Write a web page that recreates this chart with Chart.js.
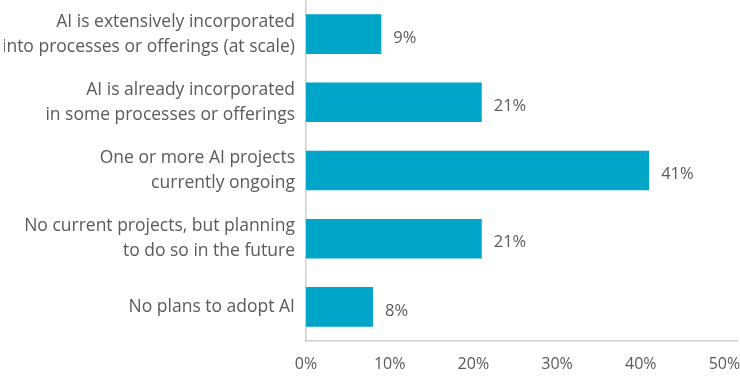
<!DOCTYPE html>
<html>
<head>
<meta charset="utf-8">
<script src="https://cdn.jsdelivr.net/npm/chart.js@4"></script>
<style>
  html, body { margin: 0; padding: 0; background: #fff; }
  #wrap { width: 740px; height: 387px; }
</style>
</head>
<body>
<div id="wrap"><canvas id="myChart"></canvas></div>
<script>
const categories = [
  ['AI is extensively incorporated', 'into processes or offerings (at scale)'],
  ['AI is already incorporated', 'in some processes or offerings'],
  ['One or more AI projects', 'currently ongoing'],
  ['No current projects, but planning', 'to do so in the future'],
  'No plans to adopt AI'
];
const shares = [9, 21, 41, 21, 8];
const xTicks = [0, 10, 20, 30, 40, 50];

const textColor = '#5a5a5a';

// value labels to the right of each bar
const barLabels = {
  id: 'barLabels',
  afterDatasetsDraw(chart) {
    const ctx = chart.ctx;
    const meta = chart.getDatasetMeta(0);
    ctx.save();
    ctx.fillStyle = textColor;
    ctx.font = '16.5px "Open Sans"';
    ctx.textBaseline = 'middle';
    ctx.textAlign = 'left';
    meta.data.forEach((bar, i) => {
      ctx.fillText(shares[i] + '%', bar.x + 12, bar.y + 4);
    });
    ctx.restore();
  }
};

const ctx = document.getElementById('myChart').getContext('2d');

const myChart = new Chart(ctx, {
  type: 'bar',
  data: {
    labels: categories,
    datasets: [{
      data: shares,
      backgroundColor: '#00a5c8',
      barPercentage: 0.58,
      categoryPercentage: 1
    }]
  },
  options: {
    indexAxis: 'y',
    responsive: true,
    maintainAspectRatio: false,
    animation: false,
    layout: { padding: { top: 0, right: 0, left: 4, bottom: 0 } },
    plugins: {
      legend: { display: false },
      tooltip: { enabled: false }
    },
    scales: {
      x: {
        min: 0,
        max: 51.5,
        afterBuildTicks: (axis) => { axis.ticks = xTicks.map(v => ({ value: v })); },
        afterFit: (scale) => { scale.height = 46; scale.paddingRight = 3; },
        grid: { display: false, drawTicks: false },
        border: { display: true, color: '#cfcfcf', width: 1.5 },
        ticks: {
          color: textColor,
          font: { family: 'Open Sans', size: 16 },
          padding: 14,
          maxRotation: 0,
          callback: (v) => v + '%'
        }
      },
      y: {
        afterFit: (scale) => { scale.width = 302; scale.paddingTop = 0; scale.paddingBottom = 0; },
        grid: { display: false, drawTicks: false },
        border: { display: true, color: '#cfcfcf', width: 1.5 },
        ticks: {
          color: textColor,
          font: { family: 'Open Sans', size: 17.5, lineHeight: 1.42 },
          padding: 11
        }
      }
    }
  },
  plugins: [barLabels]
});
</script>
</body>
</html>
